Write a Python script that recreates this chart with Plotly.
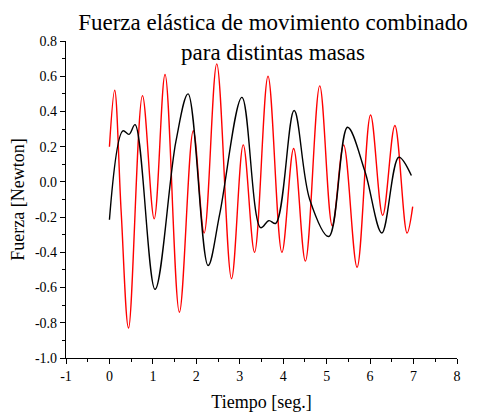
import plotly.graph_objects as go

# Red series (time in s, force in N)
red_t = [0.00, 0.12, 0.27, 0.44, 0.76, 1.03, 1.28, 1.61, 1.93, 2.18, 2.47, 2.81,
         3.08, 3.34, 3.65, 3.97, 4.24, 4.51, 4.84, 5.13, 5.39, 5.70, 6.01, 6.29,
         6.57, 6.85, 6.98]
red_f = [0.20, 0.52, -0.17, -0.83, 0.49, -0.21, 0.61, -0.74, 0.29, -0.29, 0.67, -0.55,
         0.21, -0.40, 0.60, -0.40, 0.19, -0.45, 0.545, -0.25, 0.21, -0.485, 0.38, -0.19,
         0.32, -0.29, -0.14]

# Black series
blk_t = [0.00, 0.31, 0.45, 0.59, 1.05, 1.53, 1.81, 2.27, 2.54, 3.05, 3.48, 3.67,
         3.83, 4.25, 4.61, 5.05, 5.48, 5.88, 6.27, 6.66, 6.95]
blk_f = [-0.215, 0.29, 0.27, 0.325, -0.61, 0.23, 0.50, -0.475, -0.18, 0.48, -0.26, -0.22,
         -0.235, 0.405, -0.10, -0.31, 0.31, 0.06, -0.29, 0.14, 0.036]

x_ticks = [-1, 0, 1, 2, 3, 4, 5, 6, 7, 8]
y_ticks = [-1.0, -0.8, -0.6, -0.4, -0.2, 0.0, 0.2, 0.4, 0.6, 0.8]

FONT = "Liberation Serif"

fig = go.Figure()
fig.add_trace(go.Scatter(x=red_t, y=red_f, mode="lines",
                         line=dict(color="#ff0000", width=1.4, shape="spline", smoothing=1.0),
                         showlegend=False))
fig.add_trace(go.Scatter(x=blk_t, y=blk_f, mode="lines",
                         line=dict(color="#000000", width=1.4, shape="spline", smoothing=1.0),
                         showlegend=False))

axis_common = dict(showgrid=False, zeroline=False, showline=True, linecolor="black",
                   linewidth=1.3, ticks="outside", ticklen=5, tickwidth=1.2,
                   tickcolor="black", tickfont=dict(family=FONT, size=14, color="black"),
                   mirror=False, automargin=False)

# the page body has an 8px margin, so the figure is made 8px smaller
W, H = 469, 406

fig.update_layout(
    width=W, height=H,
    margin=dict(l=58, r=20, t=33, b=56, autoexpand=False),
    paper_bgcolor="white", plot_bgcolor="white",
    font=dict(family=FONT, color="black"),
    title=dict(text="Fuerza elástica de movimiento combinado<br>para distintas masas",
               x=265 / W, xanchor="center", xref="container",
               y=1 - 22 / H, yanchor="top", yref="container",
               font=dict(family=FONT, size=23, color="black")),
    xaxis=dict(range=[-1, 8], tickvals=x_ticks, ticktext=[str(v) for v in x_ticks],
               minor=dict(dtick=0.5, ticks="outside", ticklen=3, tickwidth=1, tickcolor="black"),
               title=dict(text="Tiempo [seg.]", font=dict(family=FONT, size=18), standoff=12),
               **axis_common),
    yaxis=dict(range=[-1.0, 0.8], tickvals=y_ticks, ticktext=[f"{v:.1f}" for v in y_ticks],
               minor=dict(dtick=0.1, ticks="outside", ticklen=3, tickwidth=1, tickcolor="black"),
               title=dict(text="Fuerza [Newton]", font=dict(family=FONT, size=18), standoff=10),
               **axis_common),
)

fig.write_html("out.html")
